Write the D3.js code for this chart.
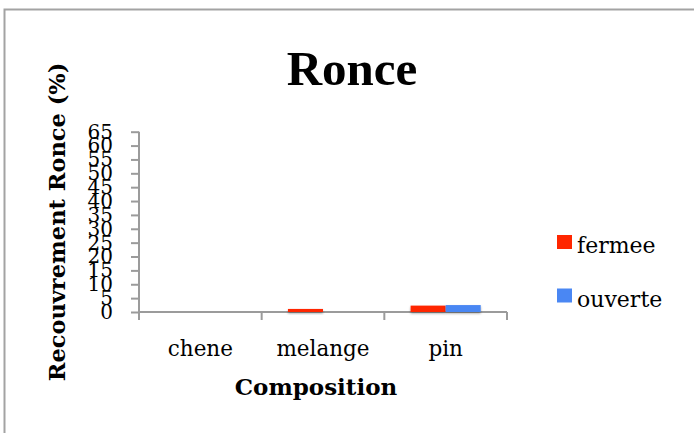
<!DOCTYPE html>
<meta charset="utf-8">
<style>
    body { margin: 0; background: #fff; }
    .axis path, .axis line { stroke: #9b9b9b; stroke-width: 2px; }
    .axis text { fill: #000; font-family: "DejaVu Serif", serif; }
</style>
<svg width="694" height="433"></svg>
<script src="https://d3js.org/d3.v7.min.js"></script>
<script>

    var categories = ["chene", "melange", "pin"];
    var seriesNames = ["fermee", "ouverte"];
    var fermee = [0, 1.1, 2.3];
    var ouverte = [0, 0, 2.5];
    var yTicks = [0, 5, 10, 15, 20, 25, 30, 35, 40, 45, 50, 55, 60, 65];
    var colors = ["#ff2600", "#4a87f3"];

    var svg = d3.select("svg");

    // chart frame (only the top and left edges show)
    svg.append("path")
        .attr("d", "M4.5,433 V9.5 H694")
        .attr("fill", "none")
        .attr("stroke", "#a3a3a3")
        .attr("stroke-width", 2);

    var x = d3.scaleBand()
        .domain(categories)
        .range([139, 507]);

    var x1 = d3.scaleBand()
        .domain(seriesNames)
        .range([0, x.bandwidth()])
        .paddingOuter(0.75)
        .paddingInner(0);

    var y = d3.scaleLinear()
        .domain([0, 65])
        .range([312, 131.7]);

    var yAxis = svg.append("g")
        .attr("class", "axis")
        .attr("transform", "translate(139,0)")
        .call(d3.axisLeft(y).tickValues(yTicks).tickSize(8).tickPadding(18));
    yAxis.selectAll("text").style("font-size", "20px");

    var xAxis = svg.append("g")
        .attr("class", "axis")
        .attr("transform", "translate(0,312)")
        .call(d3.axisBottom(x).tickSize(0).tickPadding(29));
    xAxis.selectAll("text").style("font-size", "21.5px");

    // category boundary ticks, Excel style
    xAxis.selectAll(".sep")
        .data(categories.concat([null]))
        .enter().append("line")
        .attr("class", "sep")
        .attr("x1", function (d, i) { return i < categories.length ? x(d) : x.range()[1]; })
        .attr("x2", function (d, i) { return i < categories.length ? x(d) : x.range()[1]; })
        .attr("y1", 0)
        .attr("y2", 8);

    xAxis.select(".domain").attr("d", "M139,0H507");
    yAxis.select(".domain").attr("d", "M0,312V131.7");

    var table = categories.map(function (c, i) {
        return {category: c, values: [fermee[i], ouverte[i]]};
    });

    var defs = svg.append("defs");
    var f = defs.append("filter").attr("id", "shadow").attr("height", "200%");
    f.append("feDropShadow").attr("dx", 0).attr("dy", 1.5).attr("stdDeviation", 1)
        .attr("flood-color", "#000").attr("flood-opacity", 0.35);

    var groups = svg.selectAll(".cat")
        .data(table)
        .enter().append("g")
        .attr("class", "cat")
        .attr("transform", function (d) { return "translate(" + x(d.category) + ",0)"; });

    groups.selectAll("rect")
        .data(function (d) { return d.values.map(function (v, j) { return {name: seriesNames[j], value: v, j: j}; }); })
        .enter().filter(function (d) { return d.value > 0; })
        .append("rect")
        .attr("x", function (d) { return x1(d.name); })
        .attr("width", x1.bandwidth())
        .attr("y", function (d) { return y(d.value); })
        .attr("height", function (d) { return y(0) - y(d.value); })
        .attr("fill", function (d) { return colors[d.j]; })
        .attr("filter", "url(#shadow)");

    // title
    svg.append("text")
        .attr("x", 352)
        .attr("y", 85)
        .attr("text-anchor", "middle")
        .style("font-family", "'Liberation Serif', serif")
        .style("font-weight", "bold")
        .style("font-size", "49px")
        .text("Ronce");

    svg.append("text")
        .attr("x", 316)
        .attr("y", 395)
        .attr("text-anchor", "middle")
        .style("font-family", "'DejaVu Serif', serif")
        .style("font-weight", "bold")
        .style("font-size", "23px")
        .text("Composition");

    svg.append("text")
        .attr("transform", "translate(65,222) rotate(-90)")
        .attr("text-anchor", "middle")
        .style("font-family", "'DejaVu Serif', serif")
        .style("font-weight", "bold")
        .style("font-size", "22.5px")
        .text("Recouvrement Ronce (%)");

    // legend
    var legend = svg.selectAll(".legend")
        .data(seriesNames)
        .enter().append("g")
        .attr("class", "legend")
        .attr("transform", function (d, i) { return "translate(557," + (235 + i * 53.5) + ")"; });

    legend.append("rect")
        .attr("width", 15)
        .attr("height", 14)
        .attr("fill", function (d, i) { return colors[i]; });

    legend.append("text")
        .attr("x", 20)
        .attr("y", 18)
        .style("font-family", "'DejaVu Serif', serif")
        .style("font-size", "22px")
        .text(function (d) { return d; });

</script>
